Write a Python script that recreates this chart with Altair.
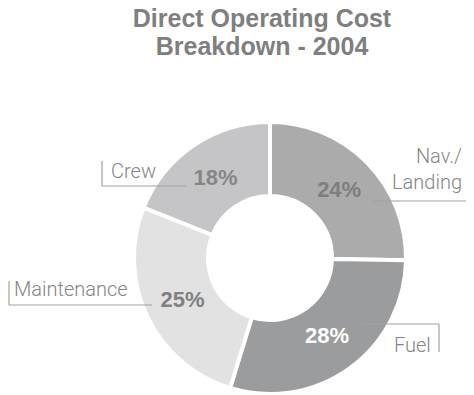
import altair as alt
import pandas as pd

# ---- data ----
categories = ["Nav./Landing", "Fuel", "Maintenance", "Crew"]
label_lines = [["Nav./", "Landing"], ["Fuel"], ["Maintenance"], ["Crew"]]
shares = [24, 28, 25, 18]
pct_labels = [f"{v}%" for v in shares]
title_lines = ["Direct Operating Cost", "Breakdown - 2004"]

# ---- styles ----
slice_colors = ["#ababab", "#9b9c9e", "#e2e2e2", "#c5c5c7"]
pct_colors = ["#7e7e7e", "#ffffff", "#808080", "#868686"]
LABEL_COLOR = "#858585"
LINE_COLOR = "#a2a2a2"
FONT = "Liberation Sans"
LABEL_FONT = "Roboto"
OFF = 8  # page margin

df = pd.DataFrame({
    "category": categories,
    "share": shares,
    "pct": pct_labels,
    "order": list(range(len(categories))),
    "tcolor": pct_colors,
})

CX, CY = 270 - OFF, 258 - OFF

base = alt.Chart(df).encode(
    theta=alt.Theta("share:Q", stack=True),
    order=alt.Order("order:Q"),
)

arcs = base.mark_arc(radius=136, radius2=62, stroke="white", strokeWidth=4).encode(
    x=alt.value(CX), y=alt.value(CY),
    color=alt.Color("category:N", scale=alt.Scale(domain=categories, range=slice_colors), legend=None),
)

pcts = base.mark_text(radius=97, fontSize=22, fontWeight="bold", font=FONT,
                      align="center", baseline="middle").encode(
    x=alt.value(CX), y=alt.value(CY),
    text="pct:N",
    color=alt.Color("tcolor:N", scale=None),
)

# annotation layout (picture pixel coordinates)
layout = [
    dict(align="right", x=462, ys=[163, 189], h=(373, 469, 201), v=(469, 150, 201)),
    dict(align="left", x=394, ys=[352], h=(362, 439, 324), v=(439, 324, 352)),
    dict(align="left", x=14, ys=[296], h=(9, 152, 305), v=(9, 281, 305)),
    dict(align="left", x=111, ys=[178], h=(102, 187, 186), v=(102, 161, 186)),
]

layers = [arcs, pcts]
anno = alt.Chart(pd.DataFrame({"d": [0]}))
for lines, lay in zip(label_lines, layout):
    for line, yb in zip(lines, lay["ys"]):
        layers.append(anno.mark_text(fontSize=20, font=LABEL_FONT, fontWeight=300, color=LABEL_COLOR,
                                     align=lay["align"], baseline="alphabetic").encode(
            x=alt.value(lay["x"] - OFF), y=alt.value(yb - OFF), text=alt.value(line)))
    hx1, hx2, hy = lay["h"]
    layers.append(anno.mark_rule(color=LINE_COLOR, strokeWidth=1.2).encode(
        x=alt.value(hx1 - OFF), x2=alt.value(hx2 - OFF), y=alt.value(hy - OFF)))
    vx, vy1, vy2 = lay["v"]
    layers.append(anno.mark_rule(color=LINE_COLOR, strokeWidth=1.2).encode(
        x=alt.value(vx - OFF), y=alt.value(vy1 - OFF), y2=alt.value(vy2 - OFF)))

for line, yb in zip(title_lines, [27, 55]):
    layers.append(anno.mark_text(fontSize=25, font=FONT, fontWeight="bold", color="#7f7f7f",
                                 align="center", baseline="alphabetic").encode(
        x=alt.value(262 - OFF), y=alt.value(yb - OFF), text=alt.value(line)))

chart = alt.layer(*layers).properties(
    width=458, height=385, padding=0, background="white",
    autosize=alt.AutoSizeParams(type="none"),
).configure_view(stroke=None)

chart.save("out.html", embed_options={"renderer": "svg", "actions": False})
